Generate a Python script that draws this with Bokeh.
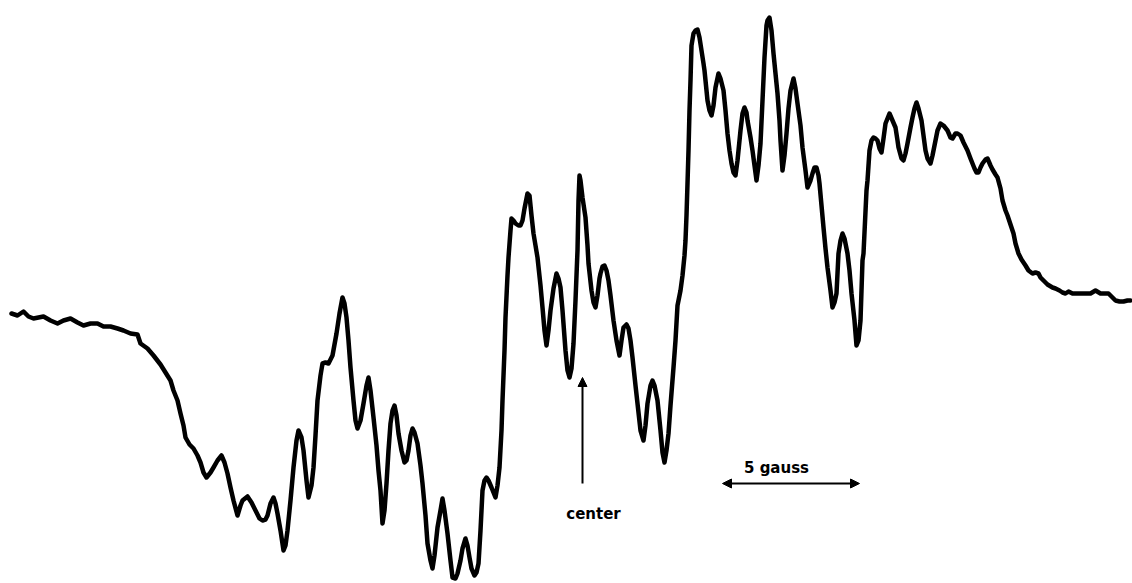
from bokeh.plotting import figure
from bokeh.models import Range1d, Arrow, NormalHead, Label
from bokeh.embed import file_html
from bokeh.resources import INLINE

# Trace: field position (arbitrary units) and pen deflection
# (arbitrary units, measured downward as on the chart paper)
pts = [(11,313),(17,315),(23,311),(28,316),(33,318),(43,316),(50,320),(57,323),(63,320),(70,318),(77,322),(83,325),(90,323),(97,323),(103,326),(110,326),(117,328),(123,330),(130,333),(137,334),(140,343),(147,348),(153,355),(160,364),(165,372),(170,380),(173,390),(177,400),(180,413),(183,425),(185,437),(189,444),(193,448),(197,455),(200,462),(203,472),(206,477),(210,472),(213,467),(217,460),(221,455),(224,462),(227,473),(230,487),(233,500),(237,515),(240,505),(242,500),(247,496),(251,502),(255,510),(259,518),(262,520),(265,519),(267,515),(270,503),(273,497),(275,503),(277,513),(280,530),(283,550),(285,545),(287,530),(290,500),(293,467),(296,440),(298,430),(301,437),(303,450),(306,480),(308,497),(311,485),(313,467),(315,435),(317,400),(320,375),(322,363),(325,362),(328,363),(332,355),(336,333),(339,313),(342,297),(344,303),(346,317),(348,340),(350,367),(353,400),(355,420),(357,428),(360,420),(363,403),(366,385),(368,377),(370,390),(373,417),(376,445),(378,470),(380,490),(382,523),(384,510),(386,483),(388,450),(390,423),(392,410),(394,405),(396,415),(398,433),(401,450),(404,462),(406,460),(408,450),(410,435),(412,428),(414,432),(417,443),(420,465),(422,483),(425,515),(427,543),(430,560),(432,568),(434,555),(437,527),(440,510),(442,498),(444,510),(447,533),(450,560),(452,577),(455,578),(457,573),(460,560),(462,548),(465,538),(467,545),(469,557),(471,568),(474,575),(476,572),(478,563),(480,530),(482,490),(484,480),(486,477),(488,480),(491,487),(493,492),(495,497),(497,485),(499,467),(501,430),(502,400),(504,350),(505,317),(507,275),(508,257),(510,230),(511,218),(513,220),(515,223),(518,225),(520,225),(522,220),(524,208),(527,193),(529,195),(531,215),(533,233),(535,245),(537,257),(540,285),(542,307),(544,330),(546,345),(548,330),(550,310),(553,288),(556,273),(558,278),(560,287),(562,310),(565,350),(567,370),(569,377),(571,368),(573,343),(575,300),(577,250),(578,200),(579,175),(580,180),(582,197),(585,217),(587,245),(588,263),(591,290),(593,302),(595,307),(597,295),(599,278),(600,273),(602,266),(604,265),(606,270),(608,280),(610,295),(613,320),(616,340),(619,355),(621,340),(623,327),(626,324),(628,328),(630,340),(632,357),(635,385),(637,403),(640,430),(643,440),(645,425),(647,403),(650,385),(652,380),(654,385),(657,400),(660,430),(662,452),(664,462),(666,450),(668,433),(670,405),(673,367),(675,340),(677,305),(680,290),(682,275),(684,255),(685,240),(686,215),(687,183),(688,150),(689,110),(690,80),(691,45),(693,33),(695,30),(697,29),(699,37),(701,50),(703,63),(704,70),(706,90),(707,100),(709,110),(711,115),(713,105),(715,87),(718,73),(720,78),(723,90),(725,110),(727,133),(729,150),(731,163),(733,172),(735,175),(737,160),(740,130),(742,113),(744,107),(746,112),(747,120),(750,137),(752,150),(754,165),(756,180),(758,165),(760,143),(762,100),(764,57),(766,25),(767,20),(769,17),(771,30),(773,53),(775,73),(777,93),(779,120),(780,140),(782,170),(784,155),(786,133),(788,108),(790,90),(793,78),(795,88),(797,103),(800,125),(802,147),(805,170),(807,187),(810,180),(812,173),(814,167),(816,167),(818,175),(819,183),(821,205),(823,227),(825,248),(827,267),(830,290),(832,307),(834,302),(836,293),(838,253),(840,240),(842,233),(844,238),(847,253),(849,270),(851,293),(854,320),(856,345),(858,340),(860,320),(862,260),(863,253),(866,190),(867,180),(869,150),(871,140),(873,137),(875,138),(877,140),(879,148),(881,152),(883,138),(885,123),(887,118),(889,113),(892,120),(895,127),(897,140),(898,147),(901,158),(903,160),(905,153),(907,143),(910,127),(912,117),(914,108),(916,102),(918,108),(921,120),(923,135),(925,150),(927,158),(930,163),(932,155),(935,140),(937,130),(940,123),(943,125),(947,130),(950,137),(952,138),(955,133),(957,133),(960,135),(963,142),(967,150),(970,158),(974,168),(976,172),(978,172),(980,167),(982,163),(985,159),(987,158),(990,165),(992,169),(995,174),(997,177),(1000,188),(1002,200),(1005,210),(1007,215),(1010,224),(1013,233),(1015,243),(1018,253),(1021,259),(1025,265),(1028,270),(1032,273),(1035,272),(1038,273),(1040,277),(1043,280),(1047,284),(1052,287),(1055,288),(1059,290),(1062,292),(1065,293),(1068,291),(1072,293),(1077,293),(1083,293),(1090,293),(1095,290),(1100,293),(1103,293),(1108,293),(1112,297),(1115,300),(1119,301),(1123,301),(1127,300),(1130,300)]

field = [p[0] for p in pts]
deflection = [p[1] for p in pts]

# annotation anchors (same units)
center_field = [582]
center_arrow_y = [483, 377]
center_label = "center"
center_label_pos = [593, 513]
scale_label = "5 gauss"
scale_label_pos = [776, 467]
scale_arrow_x = [722, 859]
scale_arrow_y = [483]

p = figure(width=1132, height=583, output_backend="svg", toolbar_location=None,
           x_range=Range1d(0, 1132), y_range=Range1d(583, 0),
           min_border=0)
p.axis.visible = False
p.grid.visible = False
p.outline_line_color = None
p.background_fill_color = "white"
p.border_fill_color = "white"

p.line(field, deflection, line_color="black", line_width=4.5,
       line_join="round", line_cap="round")

p.add_layout(Arrow(x_start=center_field[0], y_start=center_arrow_y[0],
                   x_end=center_field[0], y_end=center_arrow_y[1],
                   line_color="black", line_width=2,
                   end=NormalHead(size=9, fill_color="black", line_color="black")))
p.add_layout(Arrow(x_start=scale_arrow_x[0], y_start=scale_arrow_y[0],
                   x_end=scale_arrow_x[1], y_end=scale_arrow_y[0],
                   line_color="black", line_width=2,
                   start=NormalHead(size=9, fill_color="black", line_color="black"),
                   end=NormalHead(size=9, fill_color="black", line_color="black")))

for txt, pos in [(center_label, center_label_pos), (scale_label, scale_label_pos)]:
    p.add_layout(Label(x=pos[0], y=pos[1], text=txt, text_align="center",
                       text_baseline="alphabetic", text_font="DejaVu Sans",
                       text_font_style="bold", text_font_size="15px",
                       text_color="black"))

open("out.html", "w").write(file_html(p, INLINE))
